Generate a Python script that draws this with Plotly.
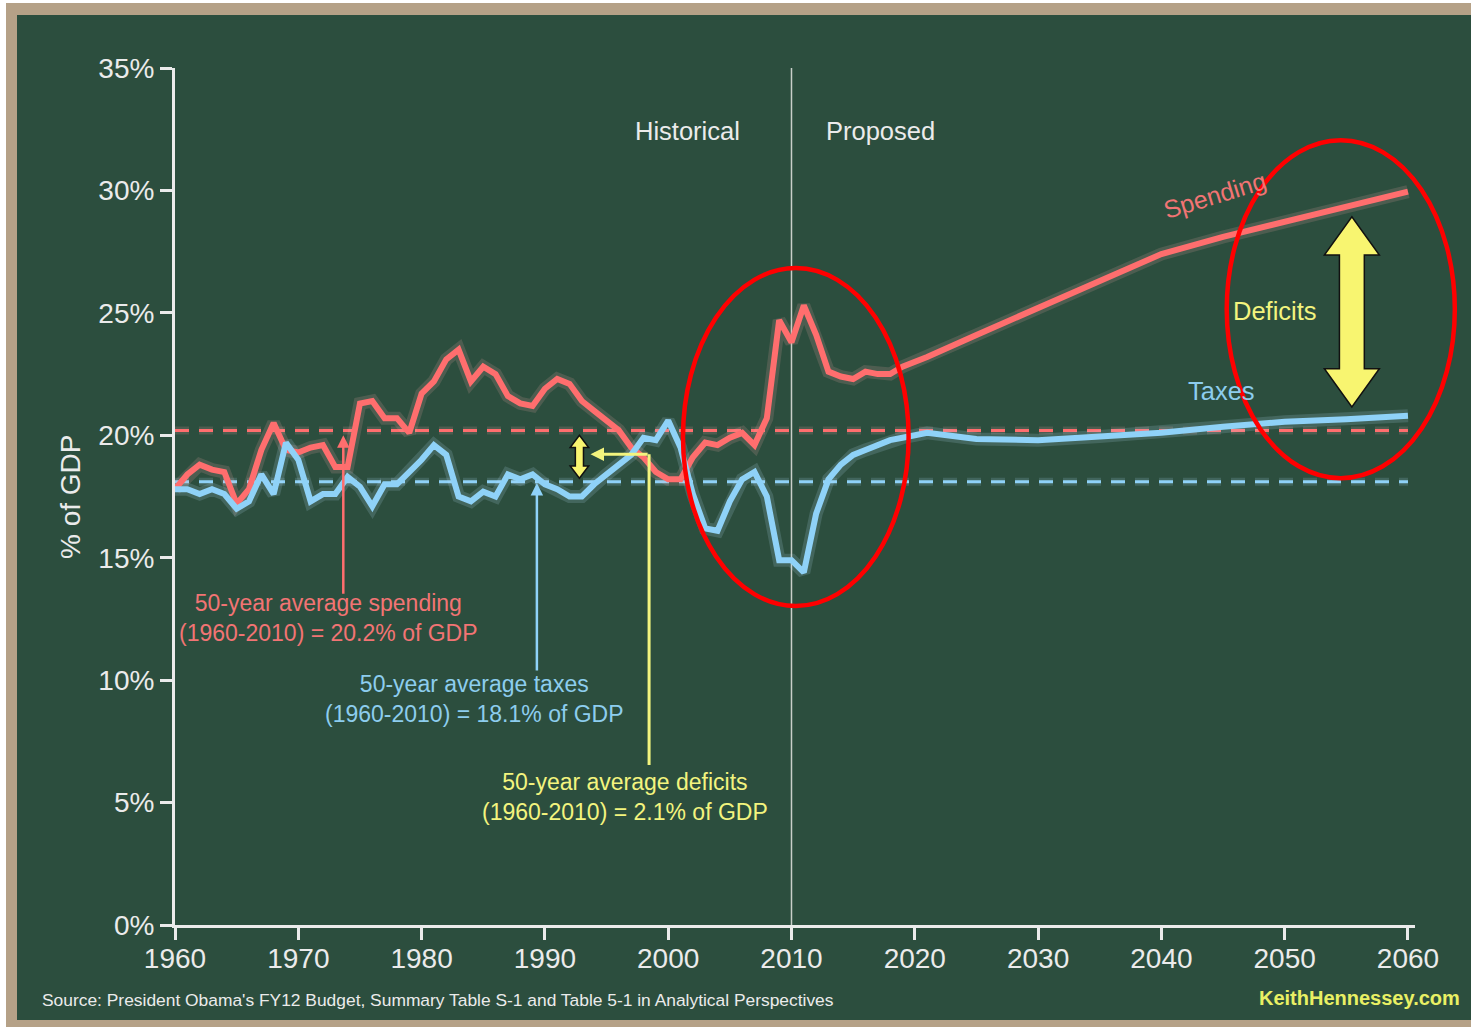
import plotly.graph_objects as go

# ---------------- data ----------------
years = list(range(1960, 2022)) + [2025, 2030, 2035, 2040, 2045, 2050, 2055, 2060]

spending = [17.8, 18.4, 18.8, 18.6, 18.5, 17.2, 17.8, 19.4, 20.5, 19.4,
            19.3, 19.5, 19.6, 18.7, 18.7, 21.3, 21.4, 20.7, 20.7, 20.1,
            21.7, 22.2, 23.1, 23.5, 22.2, 22.8, 22.5, 21.6, 21.3, 21.2,
            21.9, 22.3, 22.1, 21.4, 21.0, 20.6, 20.2, 19.5, 19.1, 18.5,
            18.2, 18.2, 19.1, 19.7, 19.6, 19.9, 20.1, 19.6, 20.7, 24.7,
            23.8, 25.3, 24.1, 22.6, 22.4, 22.3, 22.6, 22.5, 22.5, 22.8,
            23.0, 23.2,
            24.1, 25.2, 26.3, 27.4, 28.1, 28.7, 29.3, 29.95]

taxes = [17.8, 17.8, 17.6, 17.8, 17.6, 17.0, 17.3, 18.4, 17.6, 19.7,
         19.0, 17.3, 17.6, 17.6, 18.3, 17.9, 17.1, 18.0, 18.0, 18.5,
         19.0, 19.6, 19.2, 17.5, 17.3, 17.7, 17.5, 18.4, 18.2, 18.4,
         18.0, 17.8, 17.5, 17.5, 18.0, 18.4, 18.8, 19.2, 19.9, 19.8,
         20.6, 19.5, 17.6, 16.2, 16.1, 17.3, 18.2, 18.5, 17.5, 14.9,
         14.9, 14.4, 16.8, 18.2, 18.8, 19.2, 19.4, 19.6, 19.8, 19.9,
         20.0, 20.1,
         19.85, 19.8, 19.95, 20.1, 20.35, 20.55, 20.65, 20.8]

avg_spending = 20.2
avg_taxes = 18.1
avg_range = [1960, 2060]
split_year = 2010

x_ticks = list(range(1960, 2061, 10))
y_ticks = list(range(0, 36, 5))
y_ticktext = [f"{v}%" for v in y_ticks]

# ---------------- style ----------------
BG = "#2c4e3e"
TAN = "#b5a187"
RED = "#ff6e6e"
BLUE = "#8fd2f8"
RED_TXT = "#f27474"
BLUE_TXT = "#8dcdee"
YEL = "#f3f47e"
WHITE = "#ebebeb"
FONT = "Liberation Sans, Arial, sans-serif"

X0, X1 = 1960, 2060.57
Y0, Y1 = 0, 35


def xd(v):
    return (v - X0) / (X1 - X0)


def yd(v):
    return (v - Y0) / (Y1 - Y0)


fig = go.Figure()

# glow for average lines
for val, col in [(avg_spending, "rgba(255,170,170,0.16)"), (avg_taxes, "rgba(180,225,255,0.16)")]:
    fig.add_trace(go.Scatter(x=avg_range, y=[val, val], mode="lines",
                             line=dict(color=col, width=8, dash="14px,10px"),
                             hoverinfo="skip", showlegend=False))
fig.add_trace(go.Scatter(x=avg_range, y=[avg_spending] * 2, mode="lines",
                         line=dict(color=RED, width=3, dash="14px,10px"),
                         showlegend=False))
fig.add_trace(go.Scatter(x=avg_range, y=[avg_taxes] * 2, mode="lines",
                         line=dict(color=BLUE, width=3, dash="14px,10px"),
                         showlegend=False))

# glow for main lines
fig.add_trace(go.Scatter(x=years, y=spending, mode="lines",
                         line=dict(color="rgba(255,175,175,0.16)", width=13),
                         hoverinfo="skip", showlegend=False))
fig.add_trace(go.Scatter(x=years, y=taxes, mode="lines",
                         line=dict(color="rgba(190,230,255,0.16)", width=13),
                         hoverinfo="skip", showlegend=False))
fig.add_trace(go.Scatter(x=years, y=spending, mode="lines", name="Spending",
                         line=dict(color=RED, width=6), showlegend=False))
fig.add_trace(go.Scatter(x=years, y=taxes, mode="lines", name="Taxes",
                         line=dict(color=BLUE, width=6), showlegend=False))

shapes = []
# background panel (green) over tan frame
shapes.append(dict(type="rect", xref="paper", yref="paper", x0=17 / 1471, x1=1.0,
                   y0=7 / 1027, y1=1 - 15 / 1027, fillcolor=BG, line=dict(width=0),
                   layer="below"))
shapes.append(dict(type="rect", xref="paper", yref="paper", x0=0, x1=6 / 1471,
                   y0=0, y1=1, fillcolor="white", line=dict(width=0), layer="below"))
shapes.append(dict(type="rect", xref="paper", yref="paper", x0=0, x1=1,
                   y0=1 - 3 / 1027, y1=1, fillcolor="white", line=dict(width=0), layer="below"))

# historical / proposed divider
shapes.append(dict(type="line", xref="x", yref="y", x0=split_year, x1=split_year,
                   y0=0, y1=35, line=dict(color="#c9cfc9", width=1.5), layer="below"))

# yellow L connector for deficit label
def_x = 1998.45
shapes.append(dict(type="line", xref="x", yref="y", x0=def_x, x1=def_x, y0=6.53, y1=19.23,
                   line=dict(color=YEL, width=3)))

# red ellipses
for (ea, eb, ec, ed) in [(2001.2, 2019.5, 13.03, 26.83), (2045.3, 2063.8, 18.25, 32.05)]:
    shapes.append(dict(type="circle", xref="x domain", yref="y domain",
                       x0=xd(ea), x1=xd(eb), y0=yd(ec), y1=yd(ed),
                       line=dict(color="#ff0000", width=4.5)))


def double_arrow(cx, top, bot, hw_shaft, hw_head, head_len):
    bt = top - head_len
    bb = bot + head_len
    pts = [(cx - hw_shaft, bt), (cx - hw_head, bt), (cx, top), (cx + hw_head, bt),
           (cx + hw_shaft, bt), (cx + hw_shaft, bb), (cx + hw_head, bb), (cx, bot),
           (cx - hw_head, bb), (cx - hw_shaft, bb)]
    p = "M " + " L ".join(f"{a},{b}" for a, b in pts) + " Z"
    return dict(type="path", xref="x", yref="y", path=p, fillcolor="#f8f570",
                line=dict(color="#111111", width=1.5))


shapes.append(double_arrow(2055.45, 28.92, 21.16, 1.01, 2.23, 1.56))
shapes.append(double_arrow(1992.8, 20.0, 18.25, 0.33, 0.75, 0.5))

annotations = []


def txt(x, y, text, color, size, **kw):
    d = dict(x=x, y=y, xref="x", yref="y", text=text, showarrow=False,
             xanchor="center", yanchor="middle",
             font=dict(color=color, size=size, family=FONT))
    d.update(kw)
    annotations.append(d)


txt(2001.6, 32.42, "Historical", WHITE, 25.5)
txt(2017.2, 32.42, "Proposed", WHITE, 25.5)
txt(2044.35, 29.81, "Spending", RED_TXT, 25, textangle=-17)
txt(2044.9, 21.8, "Taxes", BLUE_TXT, 25.5)
txt(2049.2, 25.07, "Deficits", YEL, 25.5)

txt(1972.45, 12.52, "50-year average spending<br>(1960-2010) = 20.2% of GDP", RED_TXT, 23)
txt(1984.3, 9.25, "50-year average taxes<br>(1960-2010) = 18.1% of GDP", BLUE_TXT, 23)
txt(1996.5, 5.23, "50-year average deficits<br>(1960-2010) = 2.1% of GDP", YEL, 23)


def arrow(tipx, tipy, tailx, taily, color, width=2.5, head=2, size=1.0):
    annotations.append(dict(x=tipx, y=tipy, ax=tailx, ay=taily, xref="x", yref="y",
                            axref="x", ayref="y", text="", showarrow=True,
                            arrowhead=head, arrowsize=size, arrowwidth=width,
                            arrowcolor=color))


arrow(1973.65, 20.0, 1973.65, 13.47, RED)
arrow(1989.35, 18.05, 1989.35, 10.33, BLUE)
arrow(1993.7, 19.23, def_x, 19.23, YEL, width=3, size=0.9)

# y axis title, source and site
annotations.append(dict(x=70 / 1471, y=1 - 497 / 1027, xref="paper", yref="paper",
                        xanchor="center", yanchor="middle",
                        text="% of GDP", textangle=-90, showarrow=False,
                        font=dict(color=WHITE, size=28, family=FONT)))
annotations.append(dict(x=40 / 1471, y=1 - 1000 / 1027, xref="paper", yref="paper",
                        xanchor="left", yanchor="middle",
                        text="Source: President Obama's FY12 Budget, Summary Table S-1 and Table 5-1 in Analytical Perspectives",
                        showarrow=False, font=dict(color=WHITE, size=17.4, family=FONT)))
annotations.append(dict(x=1462 / 1471, y=1 - 998 / 1027, xref="paper", yref="paper",
                        xanchor="right", yanchor="middle", text="<b>KeithHennessey.com</b>",
                        showarrow=False, font=dict(color="#e9f064", size=20, family=FONT)))

fig.update_layout(
    template="none",
    width=1471, height=1027,
    autosize=False,
    margin=dict(l=0, r=0, t=0, b=0, pad=0, autoexpand=False),
    paper_bgcolor=TAN,
    plot_bgcolor="rgba(0,0,0,0)",
    showlegend=False,
    shapes=shapes,
    annotations=annotations,
    xaxis=dict(range=[X0, X1], domain=[175 / 1471, 1415 / 1471], automargin=False,
               tickmode="array", tickvals=x_ticks, ticks="outside", ticklen=12, tickwidth=3,
               tickcolor=WHITE, showline=True, linecolor=WHITE, linewidth=3,
               showgrid=False, zeroline=False, ticklabelstandoff=-6,
               tickfont=dict(color=WHITE, size=28, family=FONT)),
    yaxis=dict(range=[Y0, Y1], domain=[1 - 925 / 1027, 1 - 68 / 1027], automargin=False,
               tickmode="array", tickvals=y_ticks, ticktext=y_ticktext,
               ticks="outside", ticklen=12,
               tickwidth=3, tickcolor=WHITE, showline=True, linecolor=WHITE,
               linewidth=3, showgrid=False, zeroline=False, ticklabelstandoff=0,
               tickfont=dict(color=WHITE, size=28, family=FONT)),
)

fig.write_html("out.html")
